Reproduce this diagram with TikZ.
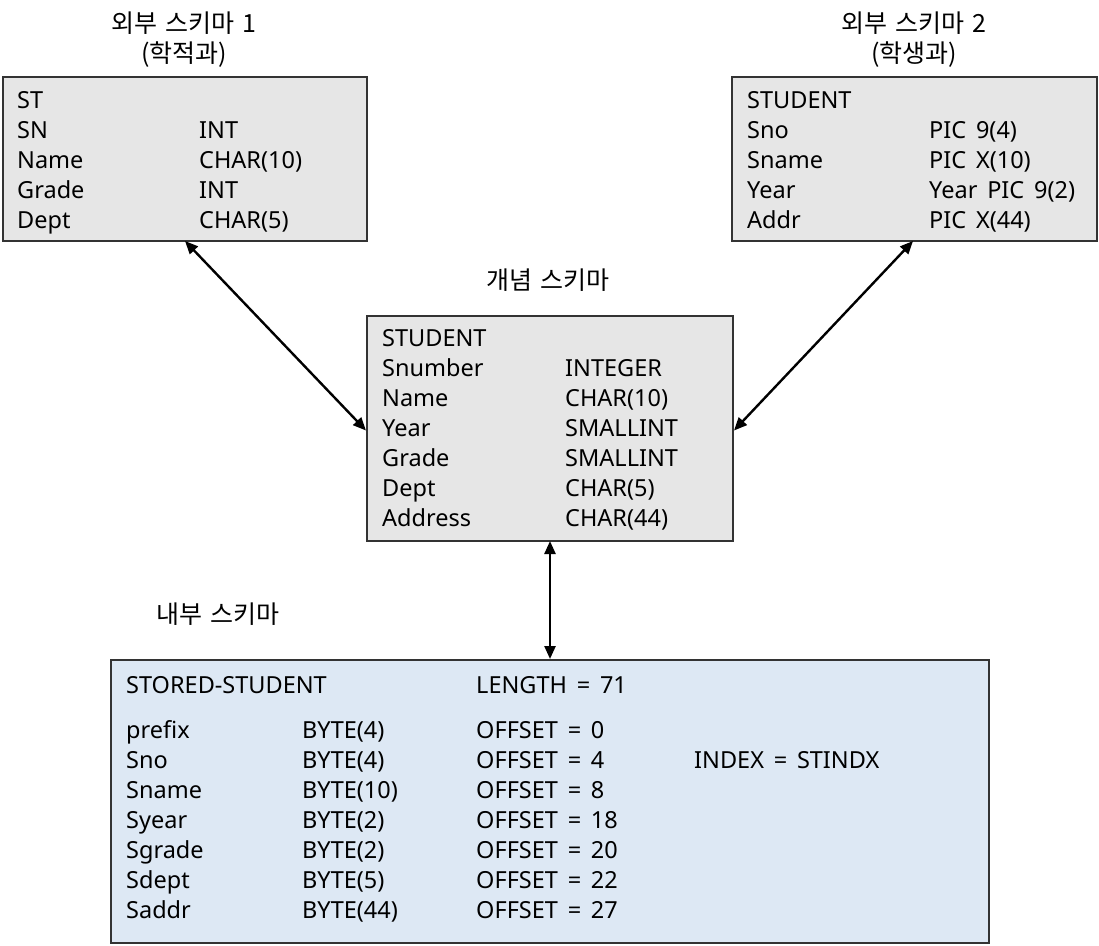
\documentclass[tikz,border=0pt]{standalone}
\usepackage{fontspec}
\setmainfont{Noto Sans}[WordSpace=1.6]
\newfontfamily\kr{Noto Sans CJK KR}[WordSpace=1.4]
\usetikzlibrary{arrows.meta}
\definecolor{boxgray}{HTML}{E6E6E6}
\definecolor{boxblue}{HTML}{DDE8F4}
\definecolor{edge}{HTML}{333333}
\begin{document}
\begin{tikzpicture}[x=1pt,y=-1pt,
  every node/.style={font=\fontsize{23.5}{28}\selectfont, inner sep=0pt},
  box/.style={draw=edge, line width=2pt, anchor=north west},
  txt/.style={anchor=west, text=black, text height=16pt, text depth=0pt},
  ttl/.style={anchor=center, text height=19pt, text depth=3pt, font=\kr\fontsize{25}{30}\selectfont},
  link/.style={line width=2.4pt, {Triangle[length=13pt,width=11pt]}-{Triangle[length=13pt,width=11pt]}}
]
\useasboundingbox (0,0) rectangle (1099,945);
% boxes
\node (b1) [box, fill=boxgray, minimum width=364pt, minimum height=164pt] at (2,76) {};
\node (b2) [box, fill=boxgray, minimum width=365pt, minimum height=164pt] at (731,76) {};
\node (b3) [box, fill=boxgray, minimum width=366pt, minimum height=225pt] at (366,315) {};
\node (b4) [box, fill=boxblue, minimum width=878pt, minimum height=283pt] at (110,659) {};
% titles
\node (t1a) [ttl] at (184,24) {외부 스키마 1};
\node (t1b) [ttl] at (184,54) {(학적과)};
\node (t2a) [ttl] at (914,24) {외부 스키마 2};
\node (t2b) [ttl] at (914,54) {(학생과)};
\node (t3) [ttl] at (548,281) {개념 스키마};
\node (t4) [ttl] at (218,615) {내부 스키마};
% box 1
\node (a0) [txt] at (17,100) {ST};
\node (a1) [txt] at (17,130) {SN};        \node (a1b) [txt] at (199,130) {INT};
\node (a2) [txt] at (17,160) {Name};      \node (a2b) [txt] at (199,160) {CHAR(10)};
\node (a3) [txt] at (17,190) {Grade};     \node (a3b) [txt] at (199,190) {INT};
\node (a4) [txt] at (17,220) {Dept};      \node (a4b) [txt] at (199,220) {CHAR(5)};
% box 2
\node (c0) [txt] at (747,100) {STUDENT};
\node (c1) [txt] at (747,130) {Sno};      \node (c1b) [txt] at (929,130) {PIC 9(4)};
\node (c2) [txt] at (747,160) {Sname};    \node (c2b) [txt] at (929,160) {PIC X(10)};
\node (c3) [txt] at (747,190) {Year};     \node (c3b) [txt] at (929,190) {Year PIC 9(2)};
\node (c4) [txt] at (747,220) {Addr};     \node (c4b) [txt] at (929,220) {PIC X(44)};
% box 3
\node (d0) [txt] at (382,338) {STUDENT};
\node (d1) [txt] at (382,368) {Snumber};  \node (d1b) [txt] at (565,368) {INTEGER};
\node (d2) [txt] at (382,398) {Name};     \node (d2b) [txt] at (565,398) {CHAR(10)};
\node (d3) [txt] at (382,428) {Year};     \node (d3b) [txt] at (565,428) {SMALLINT};
\node (d4) [txt] at (382,458) {Grade};    \node (d4b) [txt] at (565,458) {SMALLINT};
\node (d5) [txt] at (382,488) {Dept};     \node (d5b) [txt] at (565,488) {CHAR(5)};
\node (d6) [txt] at (382,518) {Address};  \node (d6b) [txt] at (565,518) {CHAR(44)};
% box 4
\node (e0) [txt] at (126,685) {STORED-STUDENT};
\node (e0c) [txt] at (476,685) {LENGTH = 71};
\node (e1) [txt] at (126,730) {prefix}; \node (e1b) [txt] at (302,730) {BYTE(4)};  \node (e1c) [txt] at (476,730) {OFFSET = 0};
\node (e2) [txt] at (126,760) {Sno};    \node (e2b) [txt] at (302,760) {BYTE(4)};  \node (e2c) [txt] at (476,760) {OFFSET = 4};
\node (e2d) [txt] at (694,760) {INDEX = STINDX};
\node (e3) [txt] at (126,790) {Sname};  \node (e3b) [txt] at (302,790) {BYTE(10)}; \node (e3c) [txt] at (476,790) {OFFSET = 8};
\node (e4) [txt] at (126,820) {Syear};  \node (e4b) [txt] at (302,820) {BYTE(2)};  \node (e4c) [txt] at (476,820) {OFFSET = 18};
\node (e5) [txt] at (126,850) {Sgrade}; \node (e5b) [txt] at (302,850) {BYTE(2)};  \node (e5c) [txt] at (476,850) {OFFSET = 20};
\node (e6) [txt] at (126,880) {Sdept};  \node (e6b) [txt] at (302,880) {BYTE(5)};  \node (e6c) [txt] at (476,880) {OFFSET = 22};
\node (e7) [txt] at (126,910) {Saddr};  \node (e7b) [txt] at (302,910) {BYTE(44)}; \node (e7c) [txt] at (476,910) {OFFSET = 27};
% connectors
\draw[link] ([xshift=183pt,yshift=1pt]b1.south west) -- ([yshift=-2pt]b3.west);
\draw[link] ([xshift=182pt,yshift=1pt]b2.south west) -- ([yshift=-2pt]b3.east);
\draw[link] ([yshift=1pt]b3.south) -- (b4.north);
\end{tikzpicture}
\end{document}
